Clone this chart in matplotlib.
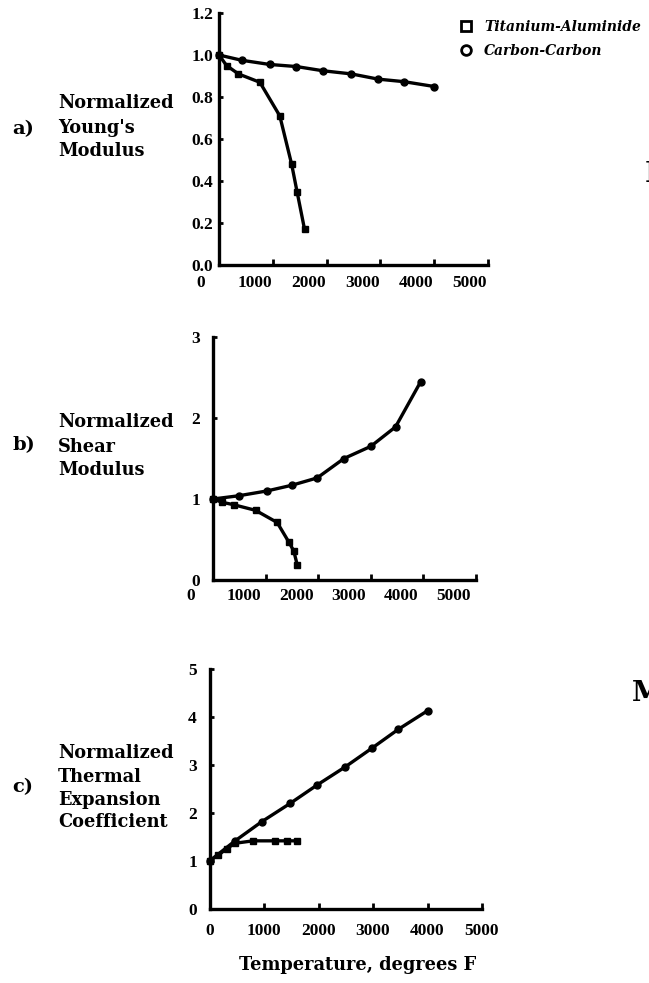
import matplotlib
matplotlib.use("Agg")
import matplotlib.pyplot as plt
import matplotlib.transforms as mtransforms
from matplotlib.lines import Line2D

# temperature (deg F) and normalized values
young_x_ti = [0, 140, 360, 760, 1130, 1350, 1450, 1590]
young_ti = [1.0, 0.95, 0.91, 0.87, 0.71, 0.48, 0.35, 0.17]
young_x_cc = [0, 420, 940, 1440, 1930, 2460, 2960, 3440, 4000]
young_cc = [1.0, 0.975, 0.955, 0.945, 0.925, 0.91, 0.885, 0.873, 0.85]

shear_x_ti = [0, 170, 390, 810, 1220, 1440, 1535, 1600]
shear_ti = [1.0, 0.96, 0.93, 0.86, 0.71, 0.47, 0.36, 0.19]
shear_x_cc = [0, 490, 1030, 1500, 1980, 2490, 3000, 3470, 3950]
shear_cc = [1.0, 1.04, 1.10, 1.17, 1.26, 1.50, 1.65, 1.89, 2.45]

cte_x_ti = [0, 160, 320, 470, 800, 1200, 1420, 1600]
cte_ti = [1.0, 1.12, 1.26, 1.37, 1.42, 1.42, 1.42, 1.42]
cte_x_cc = [0, 470, 960, 1480, 1970, 2490, 2980, 3460, 4000]
cte_cc = [1.0, 1.42, 1.82, 2.20, 2.58, 2.96, 3.35, 3.74, 4.13]

x_ticks = [0, 1000, 2000, 3000, 4000, 5000]
young_ticks = [0.0, 0.2, 0.4, 0.6, 0.8, 1.0, 1.2]
young_labels = ['0.0', '0.2', '0.4', '0.6', '0.8', '1.0', '1.2']
shear_ticks = [0, 1, 2, 3]
cte_ticks = [0, 1, 2, 3, 4, 5]

series_names = ['Titanium-Aluminide', 'Carbon-Carbon']

W, H = 649, 983
fig = plt.figure(figsize=(W / 100, H / 100), dpi=100)
fig.patch.set_facecolor('white')


def px_axes(left, right, bottom, top):
    return fig.add_axes([left / W, 1 - bottom / H, (right - left) / W, (bottom - top) / H])


tick_font = {'family': 'Liberation Serif', 'weight': 'bold', 'size': 12.5}
text_font = {'family': 'DejaVu Serif', 'weight': 'bold', 'size': 12.8}


def style(ax, ylim, yticks, ylabels, xpad, ypad, xshift):
    ax.set_xlim(0, 5000)
    ax.set_ylim(*ylim)
    for s in ['top', 'right']:
        ax.spines[s].set_visible(False)
    for s in ['left', 'bottom']:
        ax.spines[s].set_linewidth(2.4)
    ax.set_xticks(x_ticks)
    ax.set_xticklabels([str(t) for t in x_ticks], fontdict=tick_font)
    ax.set_yticks(yticks)
    ax.set_yticklabels(ylabels, fontdict=tick_font)
    ax.tick_params(axis='x', direction='in', length=4, width=2, pad=xpad)
    ax.tick_params(axis='y', direction='in', length=3, width=2, pad=ypad)
    if xshift:
        off = mtransforms.ScaledTranslation(xshift / 100, 0, fig.dpi_scale_trans)
        for lab in ax.get_xticklabels():
            lab.set_transform(lab.get_transform() + off)


def draw(ax, xt, yt, xc, yc):
    ax.plot(xt, yt, color='black', lw=2.4, marker='s', ms=5, clip_on=False)
    ax.plot(xc, yc, color='black', lw=2.4, marker='o', ms=5, clip_on=False)


ax1 = px_axes(219, 488, 265, 13)
draw(ax1, young_x_ti, young_ti, young_x_cc, young_cc)
style(ax1, (0, 1.2), young_ticks, young_labels, 7, 4, -18)

ax2 = px_axes(213, 476, 580, 337)
draw(ax2, shear_x_ti, shear_ti, shear_x_cc, shear_cc)
style(ax2, (0, 3), shear_ticks, [str(t) for t in shear_ticks], 6, 9, -22)

ax3 = px_axes(209.5, 482, 909, 669)
draw(ax3, cte_x_ti, cte_ti, cte_x_cc, cte_cc)
style(ax3, (0, 5), cte_ticks, [str(t) for t in cte_ticks], 10, 9, 0)


def ftext(x, y, s, **kw):
    fig.text(x / W, 1 - y / H, s, **kw)


# left-hand row labels
labels = [
    ('a)', 129, [('Normalized', 103), ("Young's", 128), ('Modulus', 151)]),
    ('b)', 445, [('Normalized', 422), ('Shear', 447), ('Modulus', 470)]),
    ('c)', 787, [('Normalized', 753), ('Thermal', 777), ('Expansion', 800), ('Coefficient', 822)]),
]
for tag, ty, lines in labels:
    ftext(12, ty, tag, ha='left', va='center', family='DejaVu Serif', weight='bold', size=14)
    for s, y in lines:
        ftext(58, y, s, ha='left', va='center', **text_font)

ftext(358, 956, 'Temperature, degrees F', ha='center', va='top', **text_font)

handles = [
    Line2D([], [], ls='none', marker='s', ms=7, mfc='white', mec='black', mew=2),
    Line2D([], [], ls='none', marker='o', ms=7, mfc='white', mec='black', mew=2),
]
fig.legend(handles, series_names, loc='upper left', bbox_to_anchor=(452 / W, 1 - 13 / H),
           frameon=False, borderpad=0, handlelength=1.0, handletextpad=0.8,
           labelspacing=0.75,
           prop={'family': 'DejaVu Serif', 'weight': 'bold', 'style': 'italic', 'size': 10})

# fragments of neighbouring page text at the right edge
ftext(645, 182, 'E', ha='left', va='baseline', family='DejaVu Serif', weight='bold', size=20)
ftext(632, 701, 'M', ha='left', va='baseline', family='DejaVu Serif', weight='bold', size=20)

fig.savefig('out.png', dpi=100)
